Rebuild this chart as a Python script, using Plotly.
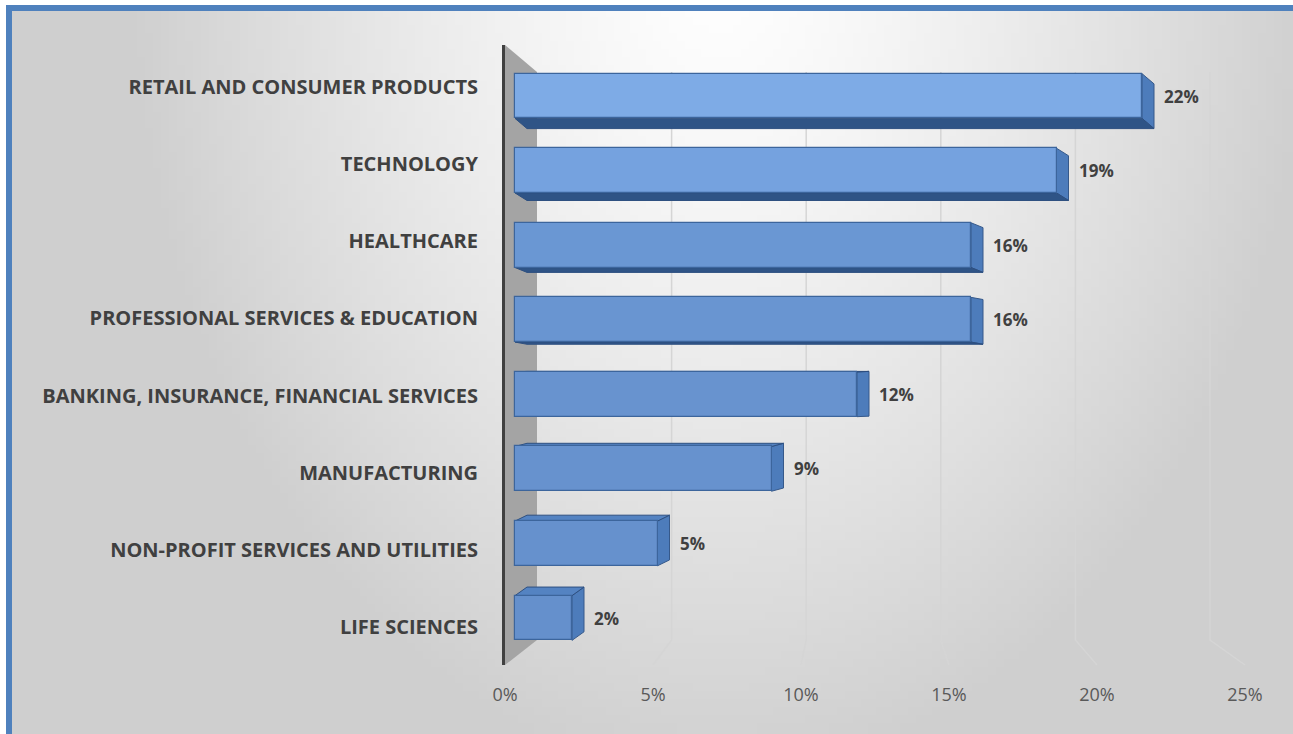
import base64
import struct
import zlib

import numpy as np
import plotly.graph_objects as go

# ---- data -------------------------------------------------------------
sectors = [
    "RETAIL AND CONSUMER PRODUCTS",
    "TECHNOLOGY",
    "HEALTHCARE",
    "PROFESSIONAL SERVICES & EDUCATION",
    "BANKING, INSURANCE, FINANCIAL SERVICES",
    "MANUFACTURING",
    "NON-PROFIT SERVICES AND UTILITIES",
    "LIFE SCIENCES",
]
shares = [22, 19, 16, 16, 12, 9, 5, 2]          # percent
axis_ticks = [0, 5, 10, 15, 20, 25]
axis_tick_text = ["0%", "5%", "10%", "15%", "20%", "25%"]

# ---- geometry (figure pixels) ----------------------------------------
W, H = 1293, 734
PLOT_L, PLOT_R = 505, 1245        # front edge of the floor: 0% .. 25%
PLOT_T, PLOT_B = 45, 665
BAR_ZERO_PX = 515                 # where bars leave the side wall
BAR_PX_PER_UNIT = 28.5
BACK_ZERO_PX = 537                # back wall 0% line
BACK_PX_PER_UNIT = 26.92
BACK_TOP, BACK_BOT = 72, 640

n = len(sectors)
pos = [n - 1 - k for k in range(n)]   # top row gets the highest position

# bar axis (y): category spacing of the bars
BAR_SPACING = 74.57
bar_y_lo = -(PLOT_B - 618) / BAR_SPACING
bar_y_hi = bar_y_lo + (PLOT_B - PLOT_T) / BAR_SPACING
# label axis (y2): category spacing of the labels on the front edge
LAB_SPACING = 77.14
lab_y_lo = -(PLOT_B - 627) / LAB_SPACING
lab_y_hi = lab_y_lo + (PLOT_B - PLOT_T) / LAB_SPACING

bar_x_lo = -(BAR_ZERO_PX - PLOT_L) / BAR_PX_PER_UNIT
bar_x_hi = bar_x_lo + (PLOT_R - PLOT_L) / BAR_PX_PER_UNIT


def px(x):
    return x / W


def py(y):
    return 1 - y / H


# ---- background gradient as an inline PNG ----------------------------
def png_uri(arr):
    h, w, _ = arr.shape
    raw = b"".join(b"\x00" + arr[r].tobytes() for r in range(h))

    def chunk(tag, data):
        c = struct.pack(">I", len(data)) + tag + data
        return c + struct.pack(">I", zlib.crc32(tag + data) & 0xFFFFFFFF)

    png = (b"\x89PNG\r\n\x1a\n"
           + chunk(b"IHDR", struct.pack(">IIBBBBB", w, h, 8, 2, 0, 0, 0))
           + chunk(b"IDAT", zlib.compress(raw, 9))
           + chunk(b"IEND", b""))
    return "data:image/png;base64," + base64.b64encode(png).decode()


BG_X0, BG_Y0 = 6, 5
gw, gh = 162, 92
gx = np.linspace(BG_X0, W, gw)
gy = np.linspace(BG_Y0, H, gh)
XX, YY = np.meshgrid(gx, gy)
t = np.sqrt(((XX - 720) / 600.0) ** 2 + ((YY + 40) / 830.0) ** 2)
t = np.clip(t, 0, 1) ** 1.3
val = (255 - 48 * t).astype(np.uint8)
bg = np.stack([val, val, val], axis=-1)
bg_src = png_uri(bg)

LABEL_FONT = "Open Sans"

fig = go.Figure()

# front faces of the bars
bar_colors = ["#7eabe6", "#75a2df", "#6a97d3", "#6995d1",
              "#6893cf", "#6792ce", "#6691cd", "#6590cc"]
fig.add_trace(go.Bar(
    x=shares, y=pos, orientation="h", width=0.6,
    marker=dict(color=bar_colors, line=dict(color="#3c659c", width=1.2)),
    hoverinfo="skip", showlegend=False,
))

# invisible carrier for the category axis on the front edge
fig.add_trace(go.Scatter(
    x=shares, y=pos, xaxis="x2", yaxis="y2", mode="markers",
    marker=dict(opacity=0), hoverinfo="skip", showlegend=False,
))

shapes = []

# blue frame
shapes.append(dict(type="rect", xref="paper", yref="paper",
                   x0=px(9), x1=1.02, y0=-0.02, y1=py(8),
                   line=dict(color="#4f81bd", width=6), layer="below"))

# side wall
wall = (f"M {px(PLOT_L)},{py(PLOT_T)} L {px(BACK_ZERO_PX)},{py(BACK_TOP)} "
        f"L {px(BACK_ZERO_PX)},{py(BACK_BOT)} L {px(PLOT_L)},{py(PLOT_B)} Z")
shapes.append(dict(type="path", xref="paper", yref="paper", path=wall,
                   fillcolor="#a4a4a4", line=dict(width=0), layer="below"))

# back-wall gridlines bending onto the floor
for v in axis_ticks[1:]:
    xb = BACK_ZERO_PX + v * BACK_PX_PER_UNIT
    xf = PLOT_L + v * (PLOT_R - PLOT_L) / axis_ticks[-1]
    path = (f"M {px(xb)},{py(BACK_TOP)} L {px(xb)},{py(BACK_BOT)} "
            f"L {px(xf)},{py(PLOT_B)}")
    shapes.append(dict(type="path", xref="paper", yref="paper", path=path,
                       line=dict(color="#d5d5d5", width=1.5), layer="below"))

# depth faces of each bar (drawn under the front faces)
HALF = 0.3
DX = 12 / BAR_PX_PER_UNIT
for v, p in zip(shares, pos):
    yc_px = PLOT_B - (p - bar_y_lo) * BAR_SPACING
    dy_px = (380 - yc_px) * 0.036
    dy = -dy_px / BAR_SPACING
    # right end face
    right = (f"M {v},{p - HALF} L {v},{p + HALF} L {v + DX},{p + HALF + dy} "
             f"L {v + DX},{p - HALF + dy} Z")
    shapes.append(dict(type="path", xref="x", yref="y", path=right,
                       fillcolor="#4d7cbb", line=dict(color="#36598a", width=1),
                       layer="below"))
    if dy < 0:
        edge = p - HALF
        color = "#2f5486"
    else:
        edge = p + HALF
        color = "#5483c2"
    face = (f"M 0,{edge} L {v},{edge} L {v + DX},{edge + dy} "
            f"L {DX},{edge + dy} Z")
    shapes.append(dict(type="path", xref="x", yref="y", path=face,
                       fillcolor=color, line=dict(color="#2d4f80", width=1),
                       layer="below"))

# value labels
annotations = []
for v, p in zip(shares, pos):
    annotations.append(dict(
        x=v, y=p, xref="x", yref="y", text=f"{v}%", showarrow=False,
        xanchor="left", yanchor="middle", xshift=20,
        font=dict(family=LABEL_FONT, size=17, color="#404040", weight="bold"),
    ))

fig.update_layout(
    width=W, height=H,
    margin=dict(l=0, r=0, t=0, b=0),
    paper_bgcolor="white",
    plot_bgcolor="rgba(0,0,0,0)",
    showlegend=False,
    bargap=0,
    shapes=shapes,
    annotations=annotations,
    images=[dict(source=bg_src, xref="paper", yref="paper",
                 x=px(BG_X0), y=py(BG_Y0), sizex=1 - px(BG_X0),
                 sizey=py(BG_Y0), sizing="stretch", xanchor="left",
                 yanchor="top", layer="below")],
    xaxis=dict(domain=[px(PLOT_L), px(PLOT_R)], range=[bar_x_lo, bar_x_hi],
               visible=False, fixedrange=True),
    yaxis=dict(domain=[py(PLOT_B), py(PLOT_T)], range=[bar_y_lo, bar_y_hi],
               visible=False, fixedrange=True),
    xaxis2=dict(domain=[px(PLOT_L), px(PLOT_R)], range=[0, 25],
                overlaying="x", anchor="y2", side="bottom",
                tickmode="array", tickvals=axis_ticks, ticktext=axis_tick_text,
                ticks="outside", ticklen=13, tickcolor="rgba(0,0,0,0)",
                showgrid=False, zeroline=False, showline=False,
                tickfont=dict(family=LABEL_FONT, size=18, color="#595959"),
                automargin=False, fixedrange=True),
    yaxis2=dict(domain=[py(PLOT_B), py(PLOT_T)], range=[lab_y_lo, lab_y_hi],
                overlaying="y", anchor="x2", side="left",
                tickmode="array", tickvals=pos, ticktext=sectors,
                ticks="outside", ticklen=20, tickcolor="rgba(0,0,0,0)",
                showgrid=False, zeroline=False,
                showline=True, linecolor="#404040", linewidth=3,
                tickfont=dict(family=LABEL_FONT, size=20, color="#404040",
                              weight="bold"),
                automargin=False, fixedrange=True),
)

fig.write_html("out.html")
